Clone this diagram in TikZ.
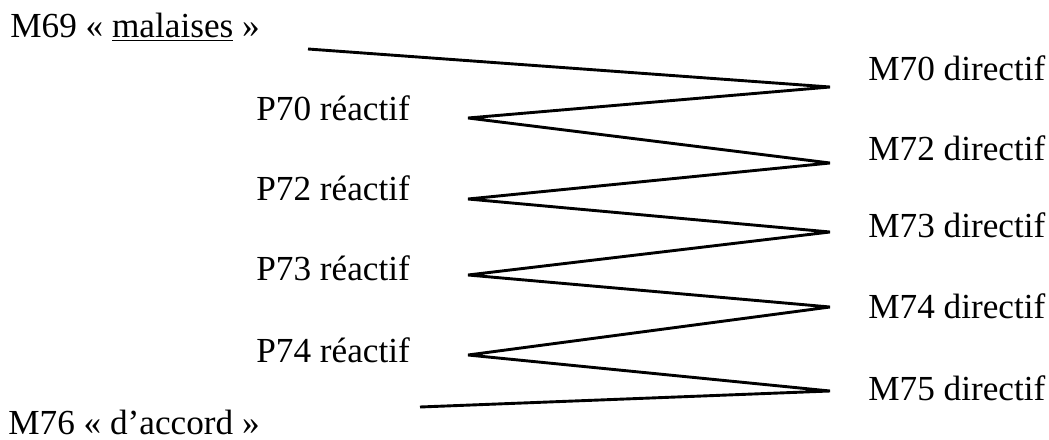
\documentclass[tikz,border=0pt]{standalone}
\usepackage{fontspec}
\setmainfont{Liberation Serif}
\usepackage{tikz}
\usetikzlibrary{positioning}
\tikzset{
  tour/.style={font=\fontsize{17.6}{20}\selectfont, inner sep=0pt, anchor=base west},
  lien/.style={line width=1.45pt, draw=black, line join=bevel},
}

\begin{document}
\begin{tikzpicture}[x=0.5pt, y=-0.5pt]
  \useasboundingbox (0,0) rectangle (1049,439);
  % tours de parole
  \node (m69) [tour] at (10,37) {M69 « \underline{malaises} »};
  \node (m70) [tour] at (868,80) {M70 directif};
  \node (p70) [tour] at (256,120) {P70 réactif};
  \node (m72) [tour] at (868,160) {M72 directif};
  \node (p72) [tour] at (256,200) {P72 réactif};
  \node (m73) [tour] at (868,237) {M73 directif};
  \node (p73) [tour] at (256,280) {P73 réactif};
  \node (m74) [tour] at (868,318) {M74 directif};
  \node (p74) [tour] at (256,362) {P74 réactif};
  \node (m75) [tour] at (868,400) {M75 directif};
  \node (m76) [tour] at (8,434) {M76 « d’accord »};
  % sommets du zigzag
  \coordinate (d0) at (308,49);
  \coordinate (d70) at (830,87);
  \coordinate (g70) at (468,118);
  \coordinate (d72) at (830,163);
  \coordinate (g72) at (468,199);
  \coordinate (d73) at (830,232);
  \coordinate (g73) at (468,275);
  \coordinate (d74) at (830,307);
  \coordinate (g74) at (468,355);
  \coordinate (d75) at (830,391);
  \coordinate (f0) at (420,407);
  \draw[lien] (d0)--(d70)--(g70)--(d72)--(g72)--(d73)--(g73)--(d74)--(g74)--(d75)--(f0);
\end{tikzpicture}
\end{document}
